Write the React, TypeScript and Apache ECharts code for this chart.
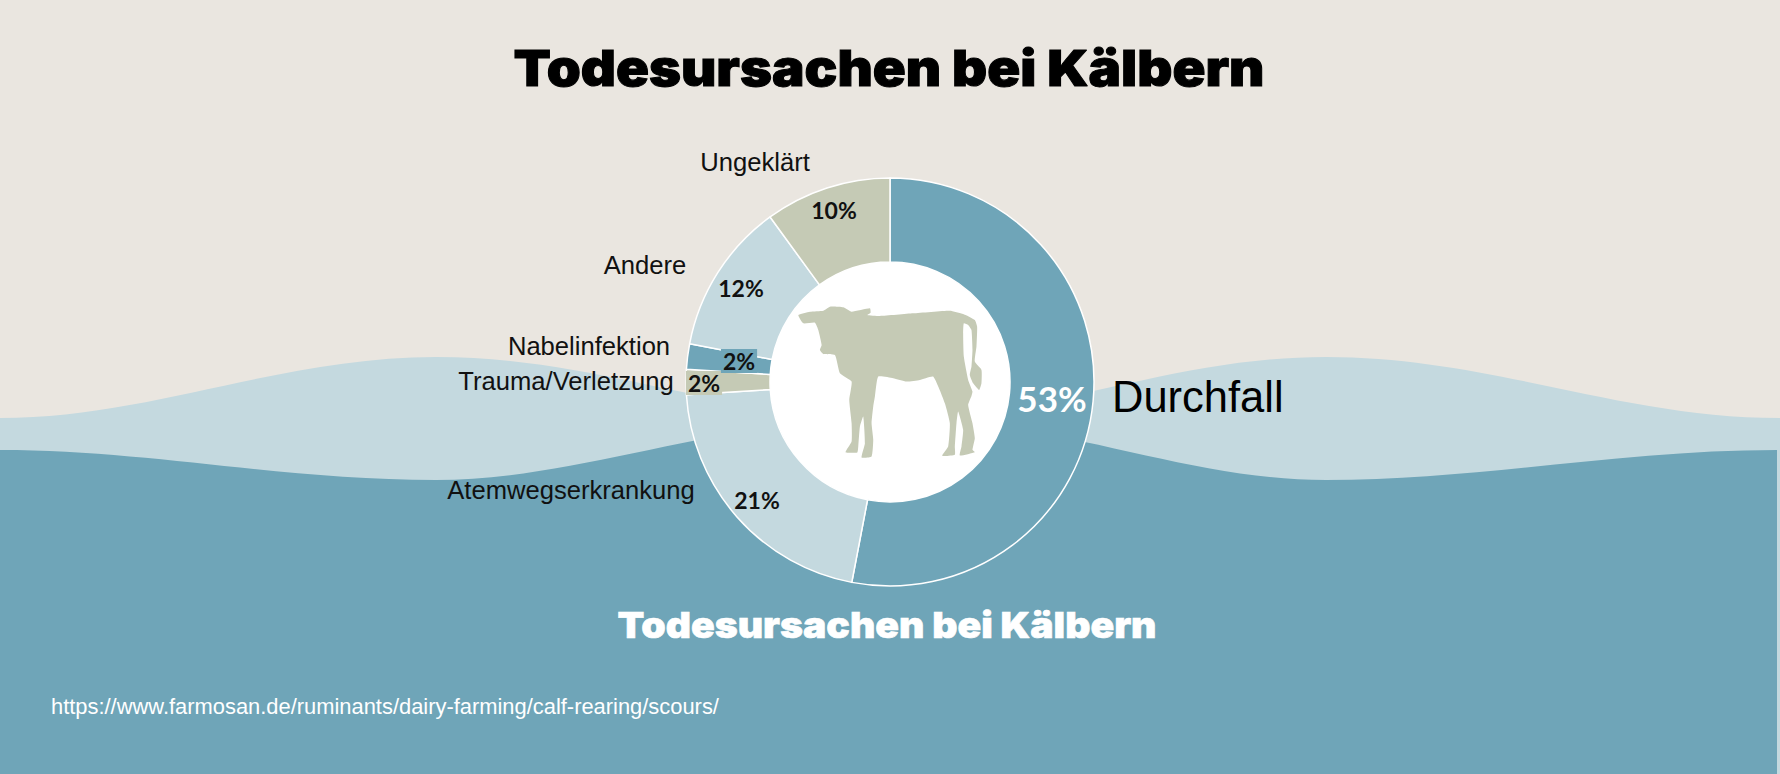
import React, { useEffect, useRef } from "react";
import * as echarts from "echarts";

const TITLE = "Todesursachen bei Kälbern";
const SOURCE = "https://www.farmosan.de/ruminants/dairy-farming/calf-rearing/scours/";
const categories = ["Durchfall", "Atemwegserkrankung", "Trauma/Verletzung", "Nabelinfektion", "Andere", "Ungeklärt"];
const shares = [53, 21, 2, 2, 12, 10];
const sliceColors = ["#6fa5b8", "#c4d9df", "#c5cab5", "#6fa5b8", "#c4d9df", "#c5cab5"];

const percentSpots = [[1052, 398], [757, 500], [704, 383], [739, 361], [741, 288], [834, 210]];
const nameSpots = [[1112, 397], [571, 490], [566, 381], [589, 346], [645, 265], [755, 162]];

const cowOutline = [
  [55,75],[90,65],[130,62],[150,50],[190,52],[215,65],[270,55],[272,68],[262,75],[300,78],[400,70],[510,62],
  [550,72],[585,90],[592,110],[590,170],[585,215],[605,240],[605,280],[598,300],[580,280],[570,255],[575,230],
  [578,180],[575,120],[565,105],[552,100],[550,130],[552,200],[565,270],[578,305],[575,318],[565,345],[578,400],
  [585,445],[578,480],[585,487],[540,497],[545,470],[550,420],[535,365],[530,400],[525,470],[525,495],[487,498],
  [505,470],[510,400],[495,340],[460,260],[420,270],[380,275],[340,265],[295,260],[285,320],[280,350],[275,400],
  [280,450],[275,500],[245,503],[255,460],[250,380],[240,410],[235,470],[232,488],[197,487],[215,455],[215,400],
  [208,330],[215,275],[180,250],[165,195],[130,192],[120,180],[125,165],[115,120],[105,98],[70,100],
];

echarts.graphic.registerShape(
  "waveLight",
  echarts.graphic.extendPath(
    "M0,418 C150,418 280,357 436,357 C600,357 720,418 890,418 C1050,418 1170,357 1326,357 C1490,357 1620,418 1780,418 L1780,774 L0,774 Z",
    {}
  )
);
echarts.graphic.registerShape(
  "waveDark",
  echarts.graphic.extendPath(
    "M0,450 C150,450 280,480 436,480 C580,480 720,418 890,418 C1060,418 1180,480 1326,480 C1480,480 1620,450 1777,450 L1777,774 L0,774 Z",
    {}
  )
);

export default function App() {
  const ref = useRef<HTMLDivElement>(null);
  useEffect(() => {
    document.body.style.margin = "0";
    const chart = echarts.init(ref.current!, null, { renderer: "svg" });
    const sliceData = categories.map((name, i) => ({
      name,
      value: shares[i],
      itemStyle: { color: sliceColors[i] },
      label: i === 0
        ? { color: "#ffffff", fontSize: 35, fontWeight: 700, backgroundColor: "transparent" }
        : { color: "#111111", fontSize: 23, fontWeight: 700, backgroundColor: i === 2 || i === 3 ? sliceColors[i] : "transparent", padding: i === 2 || i === 3 ? [1, 2] : 0 },
    }));
    chart.setOption({
      animation: false,
      backgroundColor: "#eae6e0",
      graphic: [
        { type: "waveLight", z: -20, silent: true, style: { fill: "#c4d9df" } },
        { type: "waveDark", z: -19, silent: true, style: { fill: "#6fa5b8" } },
        { type: "circle", z: -18, silent: true, shape: { cx: 890, cy: 382, r: 120 }, style: { fill: "#ffffff" } },
        {
          type: "polygon",
          z: 50,
          silent: true,
          x: 780,
          y: 290,
          scaleX: 1 / 3,
          scaleY: 1 / 3,
          shape: { points: cowOutline, smooth: 0.15 },
          style: { fill: "#c5cab5" },
        },
        {
          type: "text",
          z: 50,
          silent: true,
          x: 889,
          y: 68,
          scaleX: 1.09,
          style: { text: TITLE, fill: "#000000", font: "900 50px 'Inter'", align: "center", verticalAlign: "middle", stroke: "#000000", lineWidth: 1 },
        },
        {
          type: "text",
          z: 50,
          silent: true,
          x: 887,
          y: 625,
          scaleX: 1.087,
          style: { text: TITLE, fill: "#ffffff", font: "900 36px 'Inter'", align: "center", verticalAlign: "middle", stroke: "#ffffff", lineWidth: 0.6 },
        },
        {
          type: "text",
          z: 50,
          silent: true,
          x: 51,
          y: 706,
          style: { text: SOURCE, fill: "#ffffff", font: "21.9px 'Liberation Sans'", align: "left", verticalAlign: "middle" },
        },
      ],
      series: [
        {
          type: "pie",
          silent: true,
          center: [890, 382],
          radius: [120, 204],
          startAngle: 90,
          data: sliceData,
          itemStyle: { borderColor: "#ffffff", borderWidth: 1.5 },
          label: { show: true, position: "inside", formatter: "{c}%", fontFamily: "Lato", lineHeight: 22 },
          labelLine: { show: false },
          labelLayout: (p: any) => ({
            x: percentSpots[p.dataIndex][0],
            y: percentSpots[p.dataIndex][1],
            align: "center",
            verticalAlign: "middle",
          }),
        },
        {
          type: "pie",
          silent: true,
          center: [890, 382],
          radius: [120, 204],
          startAngle: 90,
          data: categories.map((name, i) => ({
            name,
            value: shares[i],
            label: i === 0 ? { fontSize: 43.5, color: "#000000" } : {},
          })),
          itemStyle: { color: "transparent", borderWidth: 0 },
          label: { show: true, position: "outside", formatter: "{b}", fontFamily: "Liberation Sans", fontSize: 25.6, color: "#111111" },
          labelLine: { show: false },
          labelLayout: (p: any) => ({
            x: nameSpots[p.dataIndex][0],
            y: nameSpots[p.dataIndex][1],
            align: p.dataIndex === 0 ? "left" : "center",
            verticalAlign: "middle",
          }),
        },
      ],
    });
    return () => chart.dispose();
  }, []);
  return <div ref={ref} style={{ width: 1780, height: 774 }} />;
}
